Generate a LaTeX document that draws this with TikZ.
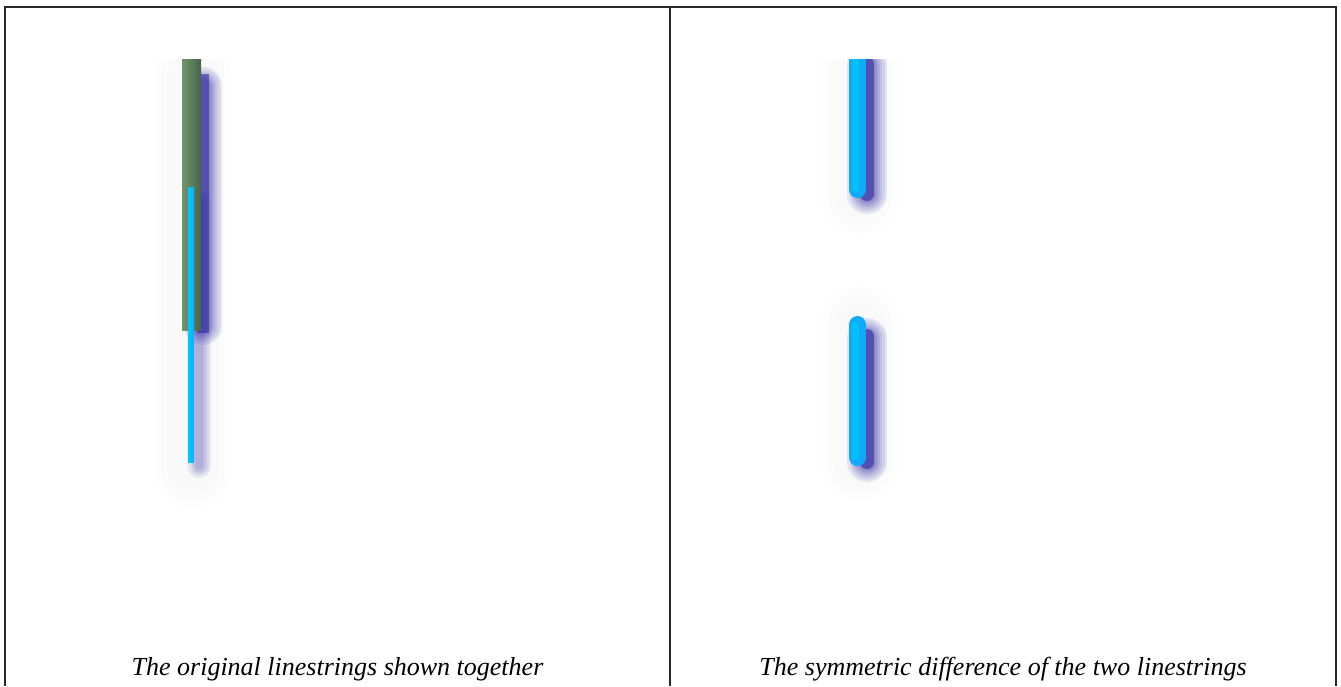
\documentclass[tikz,border=0pt]{standalone}
\usepackage{fontspec}
\setmainfont{Liberation Serif}
\usetikzlibrary{calc}
\definecolor{frame}{RGB}{40,40,40}
\definecolor{shadowblue}{RGB}{40,35,160}
\definecolor{barcyan}{RGB}{15,170,250}
\definecolor{barcyanlight}{RGB}{0,205,255}
\definecolor{bargreen}{RGB}{115,150,110}
\definecolor{bargreendark}{RGB}{70,100,72}
\tikzset{
  panel/.style={draw=frame, line width=1.4pt},
  caption/.style={font=\fontsize{26}{30}\selectfont\itshape, anchor=base, inner sep=0pt},
  softshadow/.style={draw=shadowblue, draw opacity=0.1},
}
\begin{document}
\begin{tikzpicture}[x=1pt,y=-1pt]
\useasboundingbox (0,0) rectangle (1341,686);
% frame
\coordinate (tl) at (5,7);
\coordinate (tr) at (1336,7);
\coordinate (bl) at (5,686);
\coordinate (br) at (1336,686);
\coordinate (mt) at (670,7);
\coordinate (mb) at (670,686);
\draw[panel] (bl) -- (tl) -- (tr) -- (br);
\draw[panel] (mt) -- (mb);
% ---------- left panel ----------
\begin{scope}
\clip (5,59) rectangle (670,600);
% faint halo
\foreach \w in {76,64,52} {
  \draw[black, draw opacity=0.008, line width=\w pt, line cap=round] (193,75) -- (193,470);
}
% shadow of green bar
\foreach \w in {38,33,28,24,20,17,14} {
  \draw[softshadow, line width=\w pt, line cap=round] (203,86) -- (203,326);
}
\draw[shadowblue, draw opacity=0.55, line width=12pt] (203,74) -- (203,333);
% shadow of cyan line
\foreach \w in {24,19,15,11,8} {
  \draw[softshadow, draw opacity=0.08, line width=\w pt, line cap=round] (199,202) -- (199,466);
}
% green bar
\shade[left color=bargreen, right color=bargreendark] (182,59) rectangle (201,330);
% cyan line
\shade[left color=barcyanlight, right color=barcyan] (188,187) rectangle (194,462);
\end{scope}
\node[caption] (capL) at (337.5,675) {The original linestrings shown together};
% ---------- right panel ----------
\begin{scope}
\clip (670,59) rectangle (1336,600);
\foreach \w in {76,64,52} {
  \draw[black, draw opacity=0.006, line width=\w pt, line cap=round] (860,60) -- (860,195);
  \draw[black, draw opacity=0.006, line width=\w pt, line cap=round] (860,325) -- (860,462);
}
\foreach \w in {40,35,30,26,22,19,16} {
  \draw[softshadow, line width=\w pt, line cap=round] (867,66) -- (867,194);
  \draw[softshadow, line width=\w pt, line cap=round] (867,338) -- (867,462);
}
\draw[shadowblue, draw opacity=0.55, line width=14pt, line cap=round] (867,64) -- (867,194);
\draw[shadowblue, draw opacity=0.55, line width=14pt, line cap=round] (867,336) -- (867,462);
\draw[barcyan, line width=17pt, line cap=round] (857.5,40) -- (857.5,189.5);
\draw[barcyan, line width=17pt, line cap=round] (857.5,324.5) -- (857.5,457.5);
\draw[barcyanlight, draw opacity=0.6, line width=7pt, line cap=round] (855,40) -- (855,189);
\draw[barcyanlight, draw opacity=0.6, line width=7pt, line cap=round] (855,325) -- (855,457);
\end{scope}
\node[caption] (capR) at (1003,675) {The symmetric difference of the two linestrings};
\end{tikzpicture}
\end{document}
